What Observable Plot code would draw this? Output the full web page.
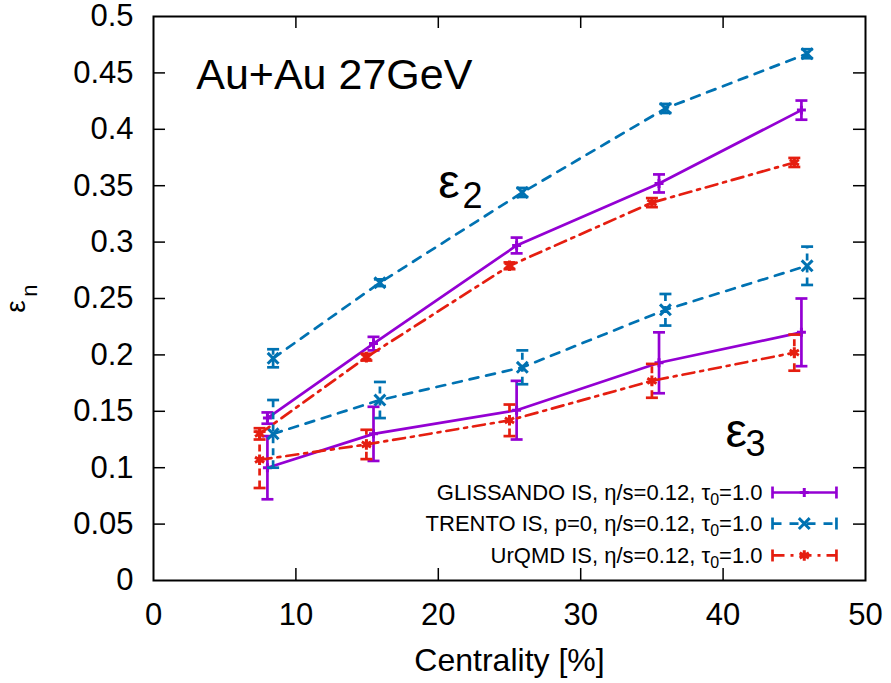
<!DOCTYPE html>
<html><head><meta charset="utf-8">
<script src="https://cdn.jsdelivr.net/npm/d3@7"></script>
<script src="https://cdn.jsdelivr.net/npm/@observablehq/plot@0.6"></script>
<style>
body{margin:0;background:#fff;}
#chart{width:891px;height:683px;}
</style>
</head><body><div id="chart"></div>
<script>
// ---------- data ----------
const xTicks = [0, 10, 20, 30, 40, 50];
const yTicks = [0, 0.05, 0.1, 0.15, 0.2, 0.25, 0.3, 0.35, 0.4, 0.45, 0.5];

const seriesNames = ["GLISSANDO", "TRENTO", "UrQMD"];
const legendLabels = [
  "GLISSANDO IS, η/s=0.12, τ0=1.0",
  "TRENTO IS, p=0, η/s=0.12, τ0=1.0",
  "UrQMD IS, η/s=0.12, τ0=1.0"
];

const glissX  = [8.0, 15.45, 25.5, 35.5, 45.5];
const trentoX = [8.4, 15.9, 25.9, 35.95, 45.9];
const urqmdX  = [7.45, 14.95, 25.0, 35.0, 45.0];

const glissE2    = [0.144, 0.210, 0.297, 0.352, 0.417];
const glissE2Err = [0.005, 0.006, 0.007, 0.008, 0.0085];
const glissE3    = [0.100, 0.130, 0.151, 0.193, 0.220];
const glissE3Err = [0.028, 0.024, 0.026, 0.027, 0.030];

const trentoE2    = [0.197, 0.264, 0.344, 0.4185, 0.467];
const trentoE2Err = [0.008, 0.003, 0.004, 0.004, 0.004];
const trentoE3    = [0.130, 0.160, 0.189, 0.240, 0.279];
const trentoE3Err = [0.030, 0.016, 0.015, 0.014, 0.017];

const urqmdE2    = [0.130, 0.198, 0.279, 0.335, 0.3706];
const urqmdE2Err = [0.005, 0.003, 0.003, 0.004, 0.004];
const urqmdE3    = [0.107, 0.1206, 0.142, 0.177, 0.202];
const urqmdE3Err = [0.025, 0.013, 0.014, 0.015, 0.016];

// ---------- layout / styles ----------
const W = 891, H = 683;
const mL = 153, mR = 26, mT = 16, mB = 103;
const frameW = W - mL - mR, frameH = H - mT - mB;
const tickLen = 12;

const styles = {
  GLISSANDO: {color: "#9400d3", dash: null, symbol: "plus", r: 3},
  TRENTO:    {color: "#0072b2", dash: "9,8", symbol: "times", r: 5},
  UrQMD:     {color: "#e51e10", dash: "12,6,3,6", symbol: "asterisk", r: 5}
};

const rows = [];
function addRows(name, harm, xs, ys, errs) {
  xs.forEach((x, i) => rows.push({name, harm, x, y: ys[i], err: errs[i]}));
}
addRows("GLISSANDO", 2, glissX, glissE2, glissE2Err);
addRows("GLISSANDO", 3, glissX, glissE3, glissE3Err);
addRows("TRENTO", 2, trentoX, trentoE2, trentoE2Err);
addRows("TRENTO", 3, trentoX, trentoE3, trentoE3Err);
addRows("UrQMD", 2, urqmdX, urqmdE2, urqmdE2Err);
addRows("UrQMD", 3, urqmdX, urqmdE3, urqmdE3Err);

const capH = {draw(ctx) { ctx.moveTo(-6, 0); ctx.lineTo(6, 0); }};
const capV = {draw(ctx) { ctx.moveTo(0, -6); ctx.lineTo(0, 6); }};

// legend placement (data coordinates inside the frame)
const legendY = [0.078, 0.0505, 0.0222];
const legendTextX = 42.77, legendX1 = 43.47, legendX2 = 47.96, legendMid = 45.7;

const marks = [];
// inward ticks on all four sides
const yInner = yTicks.slice(1, -1), xInner = xTicks.slice(1, -1);
marks.push(Plot.tickY(yInner, {y: d => d, insetRight: frameW - tickLen, stroke: "black", strokeWidth: 1.5}));
marks.push(Plot.tickY(yInner, {y: d => d, insetLeft: frameW - tickLen, stroke: "black", strokeWidth: 1.5}));
marks.push(Plot.tickX(xInner, {x: d => d, insetTop: frameH - tickLen, stroke: "black", strokeWidth: 1.5}));
marks.push(Plot.tickX(xInner, {x: d => d, insetBottom: frameH - tickLen, stroke: "black", strokeWidth: 1.5}));

seriesNames.forEach((name, k) => {
  const s = styles[name];
  const d = rows.filter(r => r.name === name);
  marks.push(Plot.line(d, {x: "x", y: "y", z: "harm", stroke: s.color, strokeWidth: 2.7, strokeDasharray: s.dash}));
  marks.push(Plot.ruleX(d, {x: "x", y1: r => r.y - r.err, y2: r => r.y + r.err, stroke: s.color, strokeWidth: 2.7, strokeDasharray: s.dash ? "7,5" : null}));
  marks.push(Plot.dot(d, {x: "x", y: r => r.y + r.err, symbol: capH, stroke: s.color, strokeWidth: 2.7}));
  marks.push(Plot.dot(d, {x: "x", y: r => r.y - r.err, symbol: capH, stroke: s.color, strokeWidth: 2.7}));
  marks.push(Plot.dot(d, {x: "x", y: "y", symbol: s.symbol, r: s.r, stroke: s.color, strokeWidth: 3}));
  // legend entry
  const ly = legendY[k];
  marks.push(Plot.text([legendLabels[k]], {x: legendTextX, y: ly, text: t => t, textAnchor: "end", lineAnchor: "middle", fontSize: 22}));
  marks.push(Plot.link([ly], {x1: legendX1, x2: legendX2, y1: t => t, y2: t => t, stroke: s.color, strokeWidth: 2.7, strokeDasharray: s.dash}));
  marks.push(Plot.dot([legendX1, legendX2], {x: t => t, y: ly, symbol: capV, stroke: s.color, strokeWidth: 2.7}));
  marks.push(Plot.dot([legendMid], {x: t => t, y: ly, symbol: s.symbol, r: s.r, stroke: s.color, strokeWidth: 3}));
});

// annotations
marks.push(Plot.text(["Au+Au 27GeV"], {x: 3.0, y: 0.436, text: t => t, textAnchor: "start", lineAnchor: "bottom", fontSize: 43}));
marks.push(Plot.text(["ε"], {x: 20.0, y: 0.3387, text: t => t, textAnchor: "start", lineAnchor: "bottom", fontSize: 48}));
marks.push(Plot.text(["2"], {x: 21.7, y: 0.330, text: t => t, textAnchor: "start", lineAnchor: "bottom", fontSize: 36}));
marks.push(Plot.text(["ε"], {x: 40.17, y: 0.118, text: t => t, textAnchor: "start", lineAnchor: "bottom", fontSize: 48}));
marks.push(Plot.text(["3"], {x: 41.57, y: 0.1108, text: t => t, textAnchor: "start", lineAnchor: "bottom", fontSize: 36}));

// axis labels
marks.push(Plot.text(["ε"], {frameAnchor: "left", dx: -137, dy: 8, rotate: -90, text: t => t, textAnchor: "middle", lineAnchor: "middle", fontSize: 28}));
marks.push(Plot.text(["n"], {frameAnchor: "left", dx: -124, dy: -8, rotate: -90, text: t => t, textAnchor: "middle", lineAnchor: "middle", fontSize: 22}));
marks.push(Plot.text(["Centrality [%]"], {frameAnchor: "bottom", dy: 90, text: t => t, textAnchor: "middle", lineAnchor: "bottom", fontSize: 32}));

marks.push(Plot.axisX({ticks: xTicks, tickSize: 0, tickPadding: 22, label: null}));
marks.push(Plot.axisY({ticks: yTicks, tickSize: 0, tickPadding: 20, label: null, tickFormat: d => String(+d.toFixed(2))}));
marks.push(Plot.frame({stroke: "black", strokeWidth: 2}));

const chart = Plot.plot({
  width: W, height: H,
  marginLeft: mL, marginRight: mR, marginTop: mT, marginBottom: mB,
  x: {domain: [0, 50]},
  y: {domain: [0, 0.5]},
  style: {fontFamily: "'Liberation Sans', Arial, sans-serif", fontSize: "31px", background: "white", color: "black", overflow: "visible"},
  marks
});

// subscript 0 in τ0
chart.querySelectorAll("text").forEach(t => {
  const s = t.textContent;
  if (s.includes("τ0=")) {
    const i = s.indexOf("τ0=");
    t.textContent = "";
    const a = document.createElementNS("http://www.w3.org/2000/svg", "tspan");
    a.textContent = s.slice(0, i + 1);
    const b = document.createElementNS("http://www.w3.org/2000/svg", "tspan");
    b.textContent = "0"; b.setAttribute("font-size", "16"); b.setAttribute("dy", "5");
    const c = document.createElementNS("http://www.w3.org/2000/svg", "tspan");
    c.textContent = s.slice(i + 2); c.setAttribute("dy", "-5");
    t.append(a, b, c);
  }
});

document.getElementById("chart").appendChild(chart);
</script>
</body></html>
